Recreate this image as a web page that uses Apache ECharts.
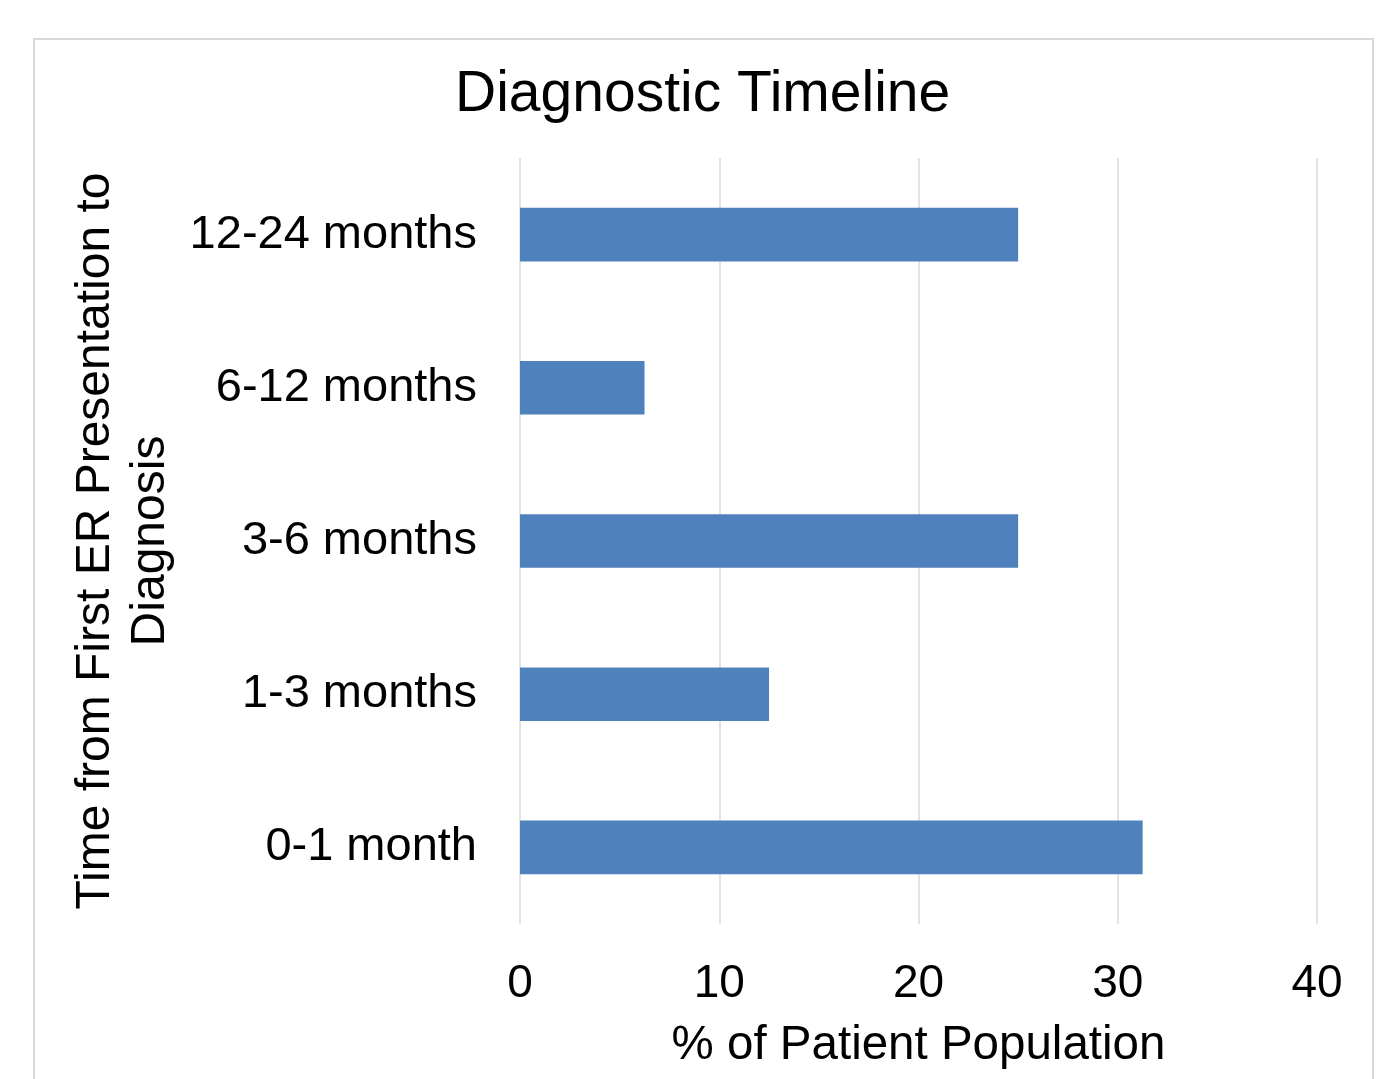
<!DOCTYPE html>
<html>
<head>
<meta charset="utf-8">
<script src="https://cdn.jsdelivr.net/npm/echarts@6/dist/echarts.min.js"></script>
<style>
  html, body { margin: 0; padding: 0; background: #ffffff; }
  #chart { width: 1382px; height: 1079px; }
</style>
</head>
<body>
<div id="chart"></div>
<script>
// Time-to-diagnosis categories, bottom to top
const categories = ['0-1 month', '1-3 months', '3-6 months', '6-12 months', '12-24 months'];
// Share of patients in each category (%)
const percentValues = [31.25, 12.5, 25, 6.25, 25];
// Value axis ticks
const xTicks = [0, 10, 20, 30, 40];

const FONT = '"Liberation Sans", Arial, sans-serif';
const chart = echarts.init(document.getElementById('chart'), null, { renderer: 'canvas' });

chart.setOption({
  backgroundColor: '#ffffff',
  animation: false,
  graphic: [{
    type: 'rect',
    shape: { x: 34, y: 39, width: 1339, height: 1100 },
    style: { fill: 'none', stroke: '#d9d9d9', lineWidth: 2 },
    z: -1
  }],
  title: {
    text: 'Diagnostic Timeline',
    left: 455,
    top: 67,
    padding: 0,
    textStyle: { fontFamily: FONT, fontSize: 57, fontWeight: 'normal', color: '#000000' }
  },
  grid: { left: 520, right: 65, top: 158, bottom: 155, containLabel: false },
  xAxis: {
    type: 'value',
    min: xTicks[0],
    max: xTicks[xTicks.length - 1],
    interval: 10,
    name: '% of Patient Population',
    nameLocation: 'middle',
    nameGap: 98,
    nameTextStyle: { fontFamily: FONT, fontSize: 47.5, color: '#000000' },
    axisLine: { show: false },
    axisTick: { show: false },
    axisLabel: { fontFamily: FONT, fontSize: 46, color: '#000000', margin: 37 },
    splitLine: { show: true, lineStyle: { color: '#d9d9d9', width: 1.5 } }
  },
  yAxis: {
    type: 'category',
    data: categories,
    name: 'Time from First ER Presentation to\nDiagnosis',
    nameLocation: 'middle',
    nameRotate: 90,
    nameGap: 341,
    nameTextStyle: { fontFamily: FONT, fontSize: 48, color: '#000000', lineHeight: 55, align: 'center' },
    axisLine: { show: false },
    axisTick: { show: false },
    axisLabel: { fontFamily: FONT, fontSize: 47, color: '#000000', margin: 43, padding: [5, 0, 0, 0] },
    splitLine: { show: false }
  },
  series: [{
    type: 'bar',
    data: percentValues,
    barCategoryGap: '65%',
    itemStyle: { color: '#4f81bd' }
  }]
});
</script>
</body>
</html>
